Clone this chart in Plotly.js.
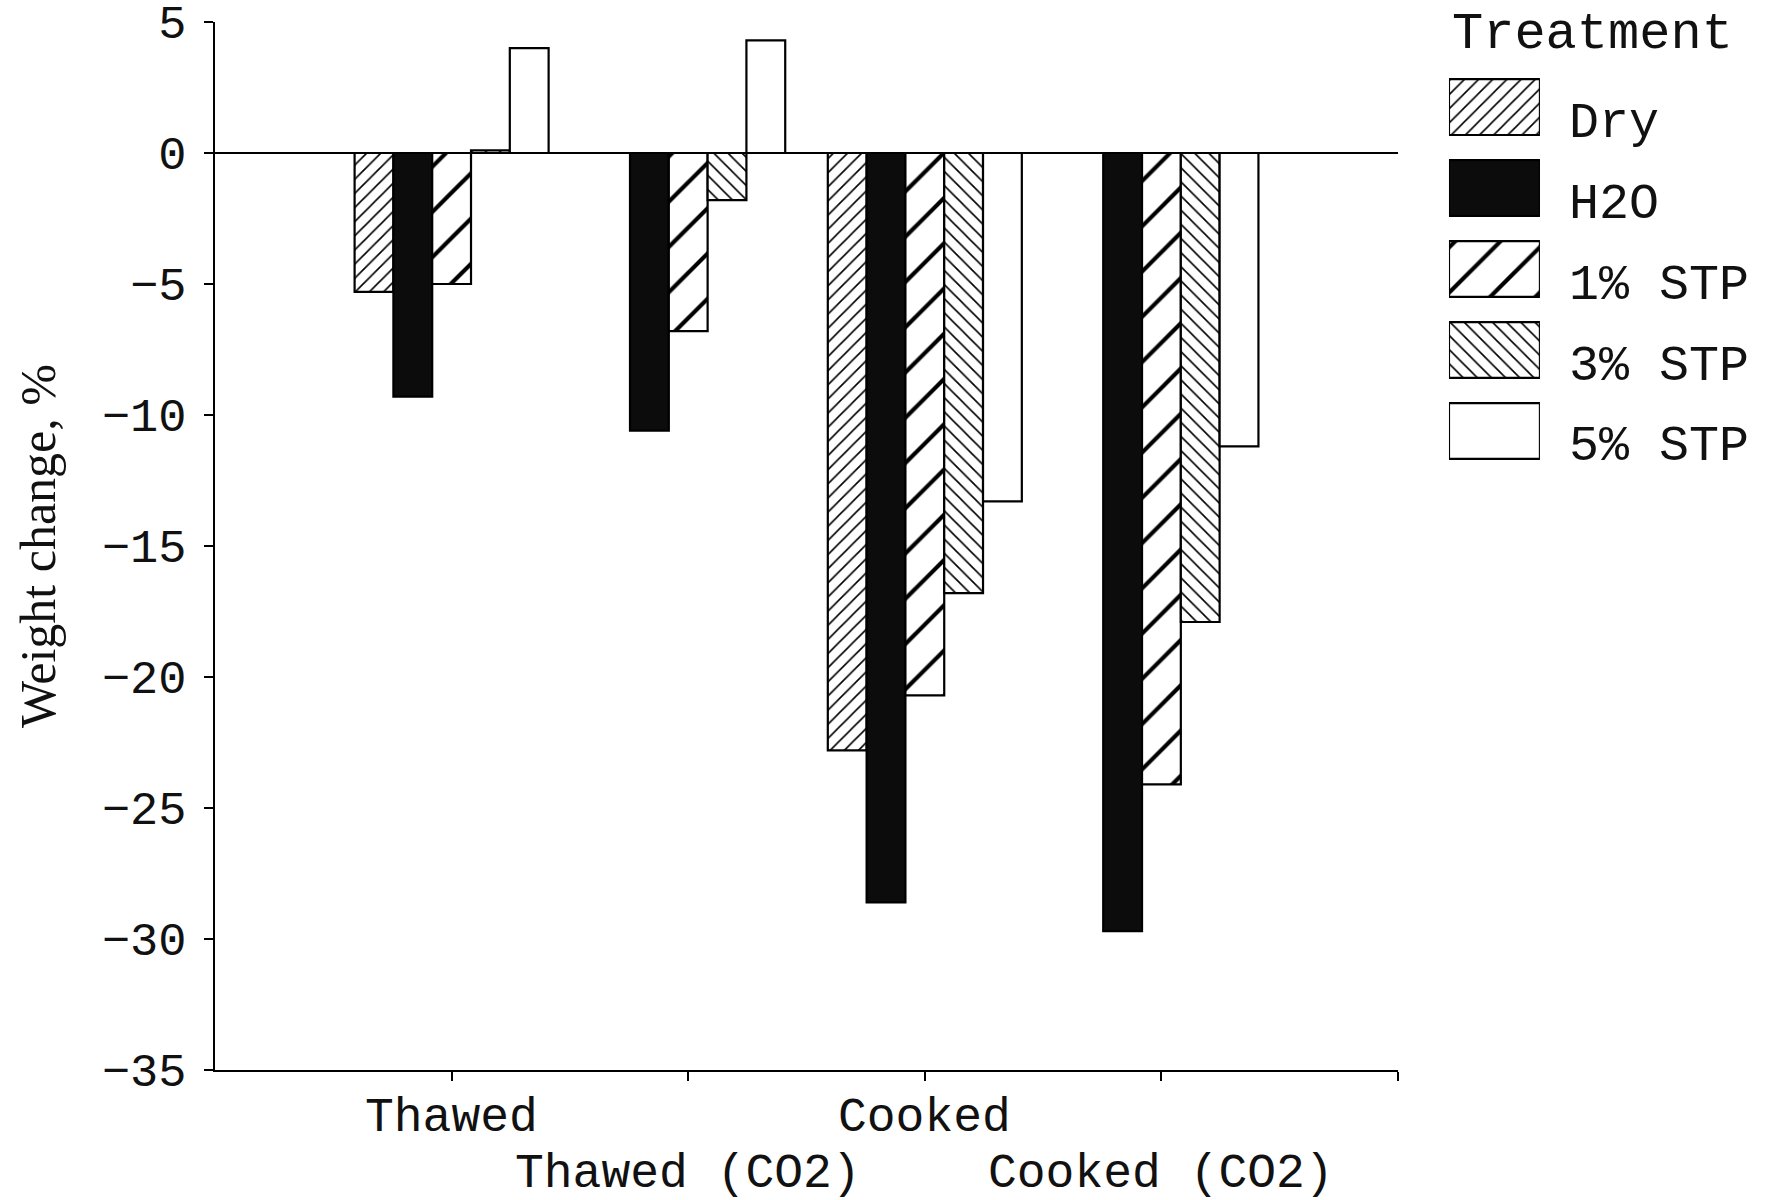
<!DOCTYPE html>
<html>
<head>
<meta charset="utf-8">
<script src="https://cdn.plot.ly/plotly-3.0.1.min.js"></script>
<style>
  html, body { margin: 0; padding: 0; background: #ffffff; }
  #chart { width: 1771px; height: 1200px; }
</style>
</head>
<body>
<div id="chart"></div>
<script>
// ---- data ----
const categories = ['Thawed', 'Thawed (CO2)', 'Cooked', 'Cooked (CO2)'];
const treatments = ['Dry', 'H2O', '1% STP', '3% STP', '5% STP'];
const dryValues  = [-5.3, null, -22.8, null];
const h2oValues  = [-9.3, -10.6, -28.6, -29.7];
const stp1Values = [-5.0, -6.8, -20.7, -24.1];
const stp3Values = [0.1, -1.8, -16.8, -17.9];
const stp5Values = [4.0, 4.3, -13.3, -11.2];
const yTickValues = [5, 0, -5, -10, -15, -20, -25, -30, -35];
const legendTitle = 'Treatment';
const yTitle = 'Weight change, %';

// ---- styles ----
const seriesValues = [dryValues, h2oValues, stp1Values, stp3Values, stp5Values];
const styles = [
  { color: '#ffffff', shape: '/',  size: 10, solidity: 0.16 },
  { color: '#0c0c0c', shape: '',   size: 8,  solidity: 0.2  },
  { color: '#ffffff', shape: '/',  size: 32, solidity: 0.13 },
  { color: '#ffffff', shape: '\\', size: 10, solidity: 0.16 },
  { color: '#ffffff', shape: '',   size: 8,  solidity: 0.2  }
];
const xIndex = categories.map((c, i) => i);

function markerFor(s) {
  const m = {
    color: s.color,
    line: { color: '#000000', width: 2.2 }
  };
  if (s.shape) {
    m.pattern = {
      shape: s.shape,
      size: s.size,
      solidity: s.solidity,
      fgcolor: '#000000',
      bgcolor: s.color,
      fillmode: 'replace'
    };
  }
  return m;
}

const traces = treatments.map((name, k) => ({
  type: 'bar',
  name: name,
  x: xIndex,
  y: seriesValues[k],
  xaxis: 'x',
  yaxis: 'y',
  showlegend: false,
  hoverinfo: 'skip',
  marker: markerFor(styles[k])
}));

// legend swatches: one horizontal bar per treatment on a small axis pair
treatments.forEach((name, k) => {
  traces.push({
    type: 'bar',
    orientation: 'h',
    name: name,
    y: [name],
    x: [1],
    width: 0.69,
    offsetgroup: 'legend',
    xaxis: 'x2',
    yaxis: 'y2',
    showlegend: false,
    hoverinfo: 'skip',
    cliponaxis: false,
    marker: markerFor(styles[k])
  });
});

const monoFont = 'Liberation Mono, Courier New, monospace';

const annotations = categories.map((c, i) => ({
  text: c,
  x: i,
  xref: 'x',
  y: i % 2 === 0 ? -0.046 : -0.099,
  yref: 'paper',
  xanchor: 'center',
  yanchor: 'middle',
  showarrow: false,
  font: { family: monoFont, size: 48, color: '#111111' }
}));
annotations.push({
  text: legendTitle,
  x: 0.9285, xref: 'paper',
  y: 0.988, yref: 'paper',
  xanchor: 'left', yanchor: 'middle',
  showarrow: false,
  font: { family: monoFont, size: 52, color: '#111111' }
});

const layout = {
  width: 1771,
  height: 1200,
  paper_bgcolor: '#ffffff',
  plot_bgcolor: 'rgba(0,0,0,0)',
  margin: { l: 215, r: 226, t: 22, b: 130, autoexpand: false },
  barmode: 'group',
  bargap: 0.18,
  bargroupgap: 0,
  hovermode: false,
  showlegend: false,
  xaxis: {
    domain: [0, 0.8895],
    type: 'linear',
    range: [-1, 4],
    tickmode: 'array',
    tickvals: [0, 1, 2, 3, 4],
    showticklabels: false,
    ticks: 'outside', ticklen: 9, tickwidth: 2, tickcolor: '#000',
    showline: true, linecolor: '#000', linewidth: 2.2,
    showgrid: false, zeroline: false,
    anchor: 'y'
  },
  xaxis3: {
    overlaying: 'x',
    type: 'linear',
    range: [-1, 4],
    tickmode: 'array',
    tickvals: [0, 1, 2, 3, 4],
    showticklabels: false,
    ticks: 'inside', ticklen: 9, tickwidth: 2, tickcolor: '#000',
    showline: false, showgrid: false, zeroline: false,
    anchor: 'y'
  },
  yaxis: {
    domain: [0, 1],
    range: [-35, 5],
    tickmode: 'array',
    tickvals: yTickValues,
    ticks: 'outside', ticklen: 9, tickwidth: 2, tickcolor: '#000',
    ticklabelstandoff: 8,
    ticklabeloverflow: 'allow',
    tickfont: { family: monoFont, size: 47, color: '#111111' },
    showline: true, linecolor: '#000', linewidth: 2.2,
    showgrid: false,
    zeroline: true, zerolinecolor: '#000', zerolinewidth: 2.2,
    title: {
      text: yTitle,
      font: { family: 'Liberation Serif, Times New Roman, serif', size: 50, color: '#111111' },
      standoff: 30
    },
    anchor: 'x'
  },
  yaxis3: {
    overlaying: 'y',
    range: [-35, 5],
    tickmode: 'array',
    tickvals: yTickValues,
    showticklabels: false,
    ticks: 'inside', ticklen: 9, tickwidth: 2, tickcolor: '#000',
    showline: false, showgrid: false, zeroline: false,
    anchor: 'x'
  },
  xaxis2: {
    domain: [0.9278, 0.9962],
    range: [0, 1],
    visible: false,
    fixedrange: true,
    anchor: 'y2'
  },
  yaxis2: {
    domain: [0.5711, 0.9575],
    type: 'category',
    categoryorder: 'array',
    categoryarray: treatments,
    range: [4.5, -0.5],
    side: 'right',
    anchor: 'x2',
    showline: false, showgrid: false, zeroline: false,
    ticks: '',
    ticklabelstandoff: 28,
    ticklabelshift: -12,
    ticklabeloverflow: 'allow',
    tickfont: { family: monoFont, size: 50, color: '#111111' }
  },
  annotations: annotations
};

Plotly.newPlot('chart', traces, layout, { staticPlot: true, displayModeBar: false });
</script>
</body>
</html>
